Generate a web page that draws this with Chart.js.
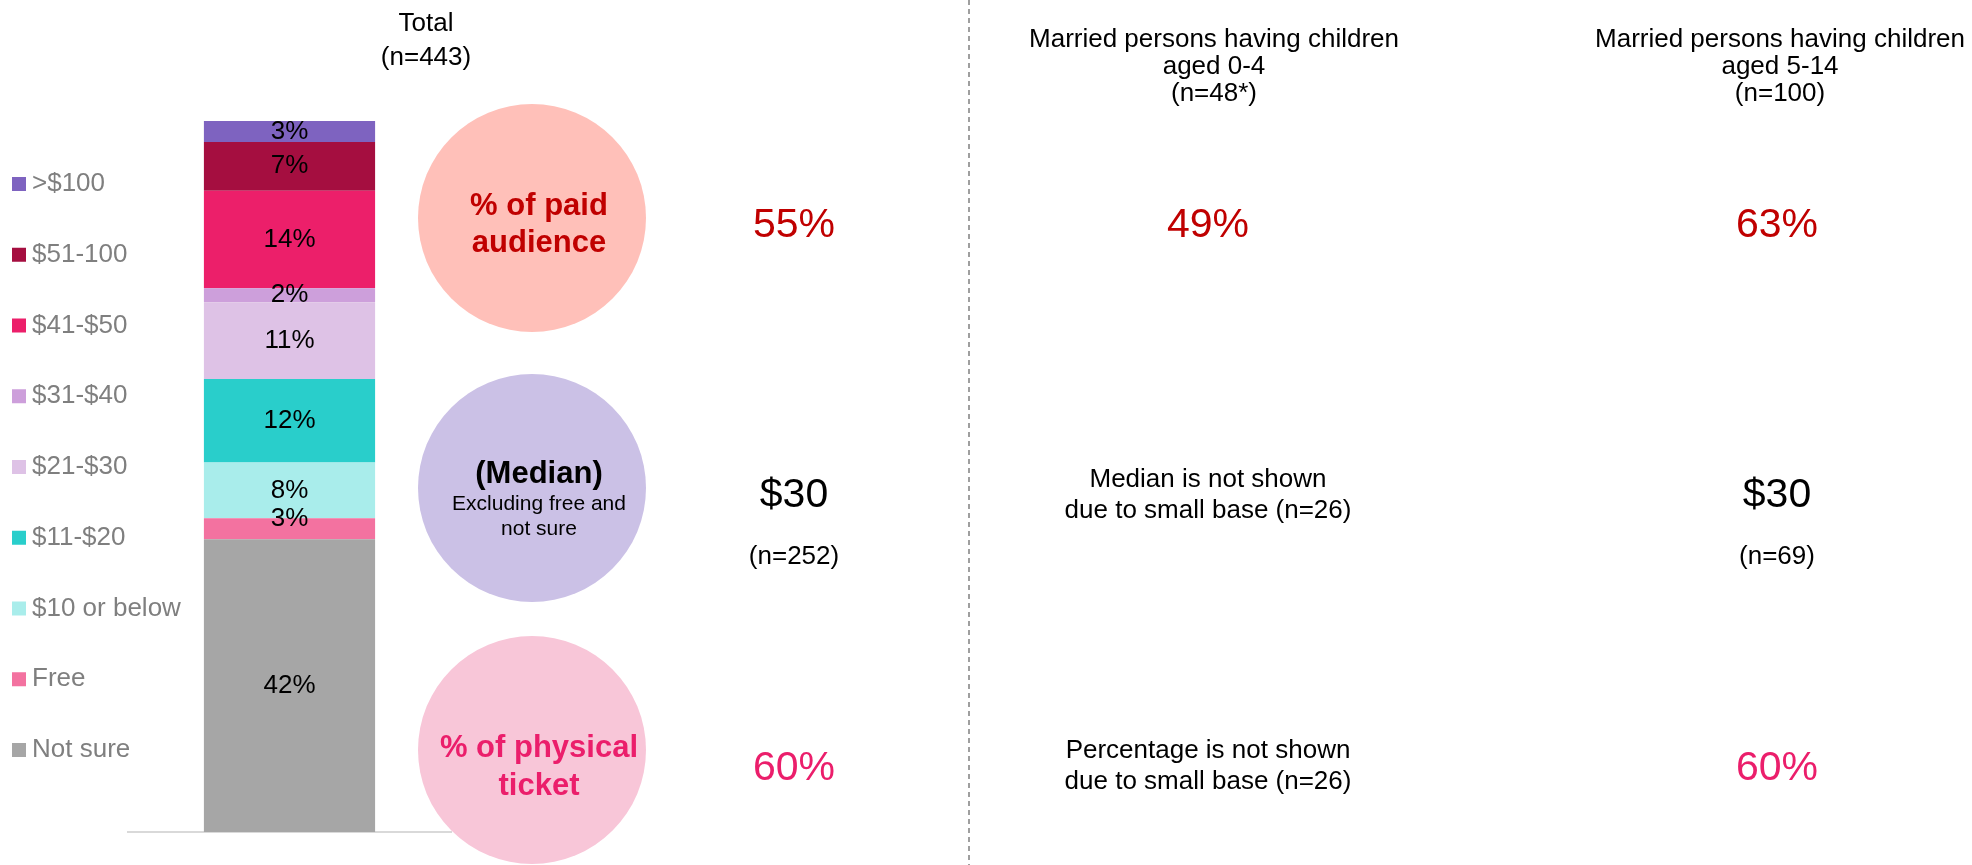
<!DOCTYPE html>
<html>
<head>
<meta charset="utf-8">
<title>Ticket spending by price band</title>
<script src="https://cdn.jsdelivr.net/npm/chart.js@4.4.1/dist/chart.umd.min.js"></script>
<style>
  html, body { margin: 0; padding: 0; background: #ffffff; }
  canvas { display: block; }
</style>
</head>
<body>
<canvas id="spend" width="1972" height="865"></canvas>
<script>
// Price bands, stacked from the bottom of the bar upwards
const priceBands = ['Not sure', 'Free', '$10 or below', '$11-$20', '$21-$30', '$31-$40', '$41-$50', '$51-100', '>$100'];
// Share of the total sample (n=443) in each band, %
const totalShares = [42, 3, 8, 12, 11, 2, 14, 7, 3];
const bandColors = ['#A6A6A6', '#F372A0', '#A9EDEB', '#29CECB', '#DEC2E6', '#CD9FDB', '#EC1F6A', '#A50E40', '#7E63C0'];

// Comparison groups
const groupTitles = [
  ['Total', '(n=443)'],
  ['Married persons having children', 'aged 0-4', '(n=48*)'],
  ['Married persons having children', 'aged 5-14', '(n=100)']
];
const paidAudience = [55, 49, 63];          // % of paid audience
const medianSpend = [30, null, 30];         // median $, excluding free and not sure
const medianBase = [252, 26, 69];
const physicalTicket = [60, null, 60];      // % of physical ticket
const physicalBase = [null, 26, null];

const FONT = '"Liberation Sans", Arial, Helvetica, sans-serif';
const RED = '#C00000';
const PINK = '#EB1E6B';

const layout = {
  headX: [426, 1214, 1780],
  headBase: [[31, 65], [47, 74, 101], [47, 74, 101]],
  valueX: [794, 1208, 1777],
  bubbleX: 532, bubbleTextX: 539, bubbleR: 114,
  bubbleY: [218, 488, 750],
  divider: 969,
  legend: { boxX: 12, textX: 32, firstY: 184, step: 70.75, box: 14 }
};

function text(c, s, x, y, size, color, opts = {}) {
  c.save();
  c.font = (opts.bold ? 'bold ' : '') + size + 'px ' + FONT;
  c.fillStyle = color;
  c.textAlign = opts.align || 'center';
  c.textBaseline = opts.baseline || 'alphabetic';
  c.fillText(s, x, y);
  c.restore();
}

const panelPlugin = {
  id: 'panel',
  afterDatasetsDraw(chart) {
    const c = chart.ctx;
    // value labels inside each stacked segment
    chart.data.datasets.forEach((ds, i) => {
      const el = chart.getDatasetMeta(i).data[0];
      if (!el) return;
      const nudge = ds.label === 'Free' ? -10 : 0;
      text(c, ds.data[0] + '%', el.x, (el.y + el.base) / 2 + nudge, 26, '#000000', { baseline: 'middle' });
    });
  },
  afterDraw(chart) {
    const c = chart.ctx;
    const L = layout;

    // legend, top band first
    const ds = chart.data.datasets;
    for (let k = 0; k < ds.length; k++) {
      const d = ds[ds.length - 1 - k];
      const y = L.legend.firstY + k * L.legend.step;
      c.fillStyle = d.backgroundColor;
      c.fillRect(L.legend.boxX, y - L.legend.box / 2, L.legend.box, L.legend.box);
      text(c, d.label, L.legend.textX, y, 26, '#7F7F7F', { align: 'left', baseline: 'middle' });
    }

    // group headings
    groupTitles.forEach((lines, g) => {
      lines.forEach((s, j) => text(c, s, L.headX[g], L.headBase[g][j], 26, '#000000'));
    });

    // divider between total and subgroups
    c.save();
    c.strokeStyle = '#808080';
    c.lineWidth = 1.5;
    c.setLineDash([5, 4]);
    c.beginPath();
    c.moveTo(L.divider, 0);
    c.lineTo(L.divider, chart.height);
    c.stroke();
    c.restore();

    // row bubbles
    const fills = ['#FFC0B9', '#CBC1E6', '#F8C6D8'];
    L.bubbleY.forEach((cy, r) => {
      c.beginPath();
      c.arc(L.bubbleX, cy, L.bubbleR, 0, Math.PI * 2);
      c.fillStyle = fills[r];
      c.fill();
    });
    const tx = L.bubbleTextX;
    text(c, '% of paid', tx, 215, 31, RED, { bold: true });
    text(c, 'audience', tx, 252, 31, RED, { bold: true });
    text(c, '(Median)', tx, 483, 31, '#000000', { bold: true });
    text(c, 'Excluding free and', tx, 510, 21, '#000000');
    text(c, 'not sure', tx, 535, 21, '#000000');
    text(c, '% of physical', tx, 757, 31, PINK, { bold: true });
    text(c, 'ticket', tx, 795, 31, PINK, { bold: true });

    // values per group
    L.valueX.forEach((x, g) => {
      text(c, paidAudience[g] + '%', x, 237, 41, RED);

      if (medianSpend[g] != null) {
        text(c, '$' + medianSpend[g], x, 507, 41, '#000000');
        text(c, '(n=' + medianBase[g] + ')', x, 564, 26, '#000000');
      } else {
        text(c, 'Median is not shown', x, 487, 26, '#000000');
        text(c, 'due to small base (n=' + medianBase[g] + ')', x, 518, 26, '#000000');
      }

      if (physicalTicket[g] != null) {
        text(c, physicalTicket[g] + '%', x, 780, 41, PINK);
      } else {
        text(c, 'Percentage is not shown', x, 758, 26, '#000000');
        text(c, 'due to small base (n=' + physicalBase[g] + ')', x, 789, 26, '#000000');
      }
    });
  }
};

const stackTop = totalShares.reduce((a, b) => a + b, 0);

new Chart(document.getElementById('spend'), {
  type: 'bar',
  data: {
    labels: ['Total'],
    datasets: priceBands.map((band, i) => ({
      label: band,
      data: [totalShares[i]],
      backgroundColor: bandColors[i],
      borderWidth: 0,
      barPercentage: 0.53,
      categoryPercentage: 1
    }))
  },
  options: {
    responsive: false,
    animation: false,
    devicePixelRatio: 1,
    layout: { padding: { left: 128, right: 1521, top: 121, bottom: 33 } },
    plugins: { legend: { display: false }, tooltip: { enabled: false } },
    scales: {
      x: {
        stacked: true,
        grid: { display: false, drawTicks: false },
        ticks: { display: false },
        border: { display: true, color: '#D9D9D9', width: 2 }
      },
      y: { stacked: true, display: false, min: 0, max: stackTop }
    }
  },
  plugins: [panelPlugin]
});
</script>
</body>
</html>
